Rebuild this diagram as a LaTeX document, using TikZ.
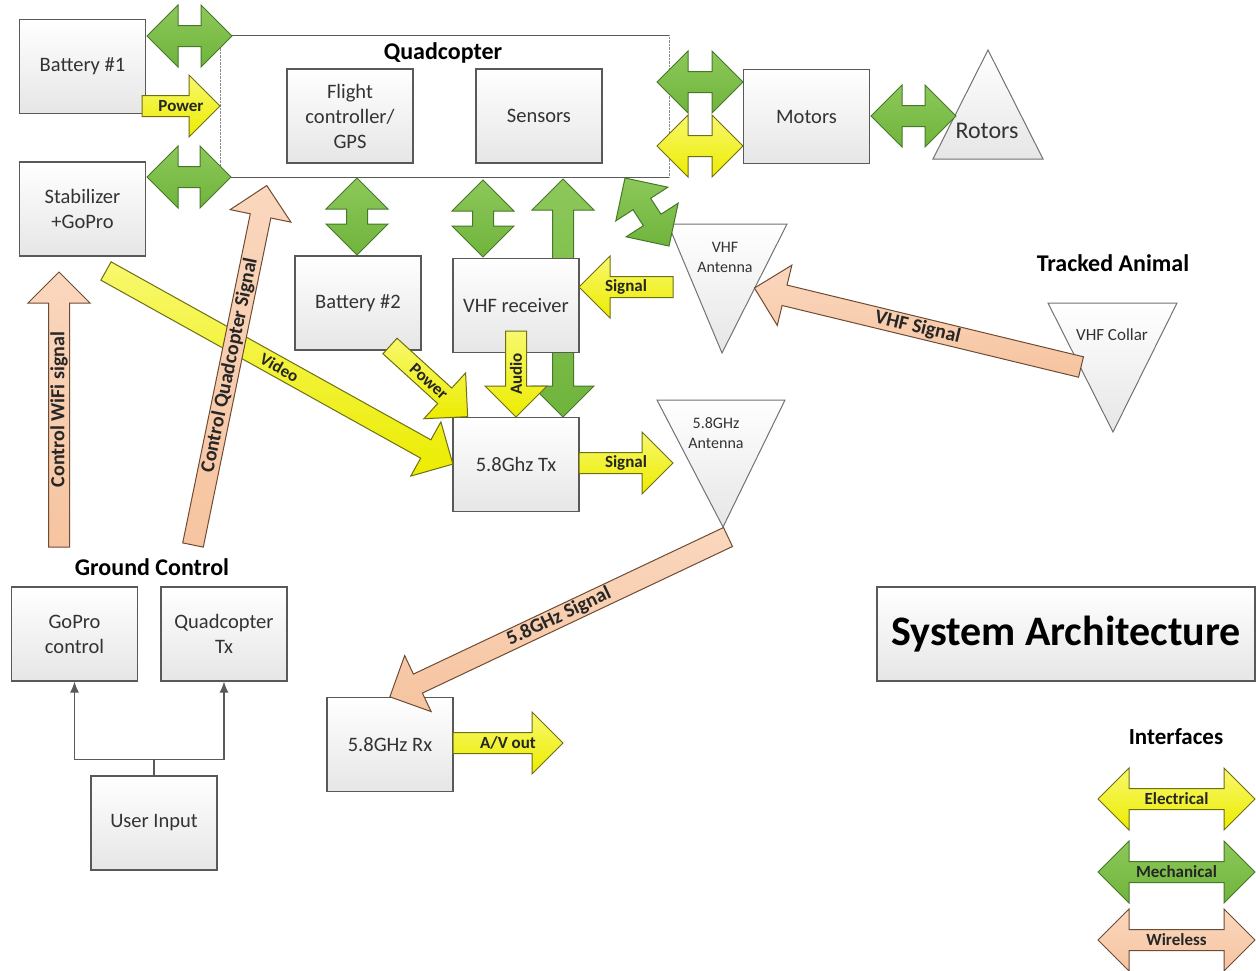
\documentclass[tikz,border=0pt]{standalone}
\usepackage{fontspec}
\setmainfont{Carlito}
\usetikzlibrary{arrows.meta}
\definecolor{boxline}{RGB}{89,89,89}
\definecolor{boxlow}{RGB}{230,230,230}
\definecolor{elecfill}{RGB}{236,236,0}
\definecolor{eleclight}{RGB}{248,248,110}
\definecolor{elecline}{RGB}{110,110,20}
\definecolor{mechfill}{RGB}{112,180,60}
\definecolor{mechlight}{RGB}{140,200,90}
\definecolor{mechline}{RGB}{70,120,40}
\definecolor{wirefill}{RGB}{246,196,160}
\definecolor{wirelight}{RGB}{250,215,190}
\definecolor{wireline}{RGB}{110,75,50}
\tikzset{
  box/.style={draw=boxline,line width=1.2pt,top color=white,bottom color=boxlow,
    minimum width=126pt,minimum height=94pt,align=center,text=black!80,
    font=\fontsize{20.5}{25}\selectfont},
  tri/.style={draw=boxline!85,line width=1pt,top color=white,bottom color=boxlow},
  tritext/.style={align=center,text=black!80,font=\fontsize{16}{20}\selectfont},
  heading/.style={font=\fontsize{24}{28}\selectfont\bfseries},
  lbl/.style={inner sep=0pt,text=black!85},
  elec/.style={line width=1pt,draw=elecline,top color=eleclight,bottom color=elecfill},
  mech/.style={line width=1pt,draw=mechline,top color=mechlight,bottom color=mechfill},
  wire/.style={line width=1pt,draw=wireline,top color=wirelight,bottom color=wirefill},
  wirelg/.style={wire},
  elec label/.style={font=\fontsize{17}{20}\selectfont\bfseries},
  mech label/.style={font=\fontsize{17}{20}\selectfont\bfseries},
  wire label/.style={font=\fontsize{20}{24}\selectfont\bfseries},
  wirelg label/.style={font=\fontsize{17}{20}\selectfont\bfseries},
  gcline/.style={draw=boxline,line width=1.2pt,-{Latex[length=11pt,width=9pt]}},
  % single block arrow: style, length, direction (1/-1), text
  pics/sarr/.style n args={4}{code={%
    \draw[#1] (0,-10.5) -- ({#3*(#2-31)},-10.5) -- ({#3*(#2-31)},-31) -- ({#3*#2},0)
      -- ({#3*(#2-31)},31) -- ({#3*(#2-31)},10.5) -- (0,10.5) -- cycle;
    \node[lbl,#1 label,transform shape] (-t) at ({#3*#2/2},0) {#4};}},
  % double block arrow: style, length, text
  pics/darr/.style n args={3}{code={%
    \draw[#1] ({-#2/2},0) -- ({-#2/2+31},-31) -- ({-#2/2+31},-10.5) -- ({#2/2-31},-10.5)
      -- ({#2/2-31},-31) -- ({#2/2},0) -- ({#2/2-31},31) -- ({#2/2-31},10.5)
      -- ({-#2/2+31},10.5) -- ({-#2/2+31},31) -- cycle;
    \node[lbl,#1 label,transform shape] (-t) at (0,0) {#3};}}
}
\begin{document}
\begin{tikzpicture}[x=1pt,y=-1pt]
\path[use as bounding box,fill=white] (0,0) rectangle (1256,970);
% quadcopter frame
\draw[densely dotted,boxline!70] (220,35) rectangle (669,177);
\draw[boxline,line width=1pt] (220,35) -- (669,35) (220,177) -- (669,177);
\node[heading] (quad) at (443,53) {Quadcopter};
\pic[rotate=90] (mtx) at (563,298) {darr={mech}{238}{}};
% blocks
\foreach \n/\x/\y/\t in {bat1/82.5/66.5/{Battery \#1},stab/82.5/209/{Stabilizer\\+GoPro},
  fc/350/116/{Flight\\controller/\\GPS},sens/539/116/{Sensors},motors/806.5/116.5/{Motors},
  bat2/358/303/{Battery \#2},vhfrx/516/305.5/{VHF receiver},tx/516/464.5/{5.8Ghz Tx},
  gopro/74.5/634/{GoPro\\control},qtx/224/634/{Quadcopter\\Tx},user/154/823/{User Input},
  rx/390/744.5/{5.8GHz Rx}}
  \node[box] (\n) at (\x,\y) {\t};
\node[box,minimum width=378pt,text=black,font=\fontsize{42}{48}\selectfont\bfseries] (sysarch) at (1066,634) {System Architecture};
% triangles
\draw[tri] (988,50) -- (1043,159) -- (933,159) -- cycle;
\draw[tri] (668,224) -- (787,224) -- (722,353) -- cycle;
\draw[tri] (657,400) -- (785,400) -- (723,527) -- cycle;
\draw[tri] (1048,303) -- (1177,303) -- (1113,432) -- cycle;
\node[tritext,font=\fontsize{24}{28}\selectfont] (rotors) at (987,131) {Rotors};
\node[tritext] (vhfant) at (725,257) {VHF\\Antenna};
\node[tritext] (gant) at (716,433) {5.8GHz\\Antenna};
\node[tritext,font=\fontsize{17}{20}\selectfont] (collar) at (1112,335) {VHF Collar};
% headings
\node[heading] (ground) at (152,567) {Ground Control};
\node[heading] (animal) at (1113,263) {Tracked Animal};
\node[heading,font=\fontsize{23}{28}\selectfont\bfseries] (iface) at (1176,737) {Interfaces};
% mechanical
\pic (m1) at (189.5,36) {darr={mech}{85}{}};
\pic (m2) at (189,177) {darr={mech}{84}{}};
\pic (m3) at (700,82) {darr={mech}{86}{}};
\pic (e3) at (700,146) {darr={elec}{86}{}};
\pic (m4) at (913.5,116) {darr={mech}{85}{}};
\pic[rotate=90] (m5) at (357,216.5) {darr={mech}{77}{}};
\pic[rotate=90] (m6) at (483,218.5) {darr={mech}{77}{}};
\pic[rotate=-57.1] (m7) at (647,212) {darr={mech}{81}{}};
% electrical
\pic (pow1) at (142,106) {sarr={elec}{78}{1}{Power}};
\pic (sig1) at (673,287) {sarr={elec}{94}{-1}{Signal}};
\pic[rotate=90] (audio) at (516,331) {sarr={elec}{86}{-1}{Audio}};
\pic[rotate=-42.3] (pow2) at (390,346) {sarr={elec}{105}{1}{Power}};
\pic[rotate=-29.1] (video) at (106,271) {sarr={elec}{397}{1}{Video}};
\pic (sig2) at (579,463) {sarr={elec}{94}{1}{Signal}};
\pic (avout) at (453,743) {sarr={elec}{110}{1}{A/V out}};
% wireless
\pic[rotate=90] (wifi) at (59,547) {sarr={wire}{275}{1}{Control WiFi signal}};
\pic[rotate=78.4] (ctrl) at (193,545) {sarr={wire}{367}{1}{Control Quadcopter Signal}};
\pic[rotate=-13.6] (vhfsig) at (1081,367) {sarr={wire}{336}{-1}{VHF Signal}};
\pic[rotate=25.3] (gsig) at (728,537) {sarr={wire}{374}{-1}{5.8GHz Signal}};
% ground control
\draw[gcline] (user.north) -- ++(0,-16) coordinate (split) -| (gopro.south);
\draw[gcline] (split) -| (qtx.south);
% legend
\pic (lgE) at (1176.5,799) {darr={elec}{157}{Electrical}};
\pic (lgM) at (1176.5,872) {darr={mech}{157}{Mechanical}};
\pic (lgW) at (1176.5,940) {darr={wirelg}{157}{Wireless}};
\end{tikzpicture}
\end{document}
